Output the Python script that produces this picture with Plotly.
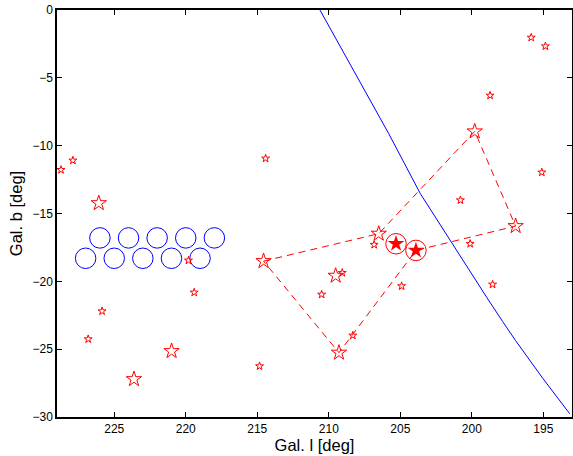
import plotly.graph_objects as go

# Small open stars (Gal. l, Gal. b)
small_l = [228.72, 227.89, 214.42, 195.85, 194.86, 198.73, 195.11, 200.80, 219.81, 219.41,
           225.85, 226.82, 214.84, 206.83, 200.12, 198.55, 209.06, 210.50, 204.91, 208.32]
small_b = [-11.78, -11.09, -10.94, -2.03, -2.67, -6.30, -11.97, -14.02, -18.46, -20.82,
           -22.20, -24.26, -26.25, -17.30, -17.23, -20.23, -19.37, -20.97, -20.35, -23.99]

# Large open stars
large_l = [226.08, 199.80, 196.94, 220.99, 223.62, 214.56, 206.51, 209.52, 209.29]
large_b = [-14.24, -8.95, -15.93, -25.14, -27.21, -18.51, -16.49, -19.59, -25.26]

# Filled stars (circled)
filled_l = [205.30, 203.91]
filled_b = [-17.23, -17.72]

# Dashed polygon vertices
poly_l = [214.56, 206.51, 199.80, 196.94, 203.91, 209.29, 214.56]
poly_b = [-18.51, -16.49, -8.95, -15.93, -17.72, -25.26, -18.51]

# Blue field circles
fov_l = [226, 224, 222, 220, 218, 227, 225, 223, 221, 219]
fov_b = [-16.8, -16.8, -16.8, -16.8, -16.8, -18.3, -18.3, -18.3, -18.3, -18.3]

# Blue curve
curve_l = [210.62, 208.37, 205.81, 203.60, 201.53, 200.05, 198.95, 197.85, 196.95, 195.02, 193.16]
curve_b = [0.0, -4.22, -9.12, -13.54, -16.99, -19.40, -21.20, -22.96, -24.36, -27.18, -29.76]

x_ticks = [225, 220, 215, 210, 205, 200, 195]
y_ticks = [0, -5, -10, -15, -20, -25, -30]

RED = "#ff0000"
BLUE = "#0000ff"

fig = go.Figure()
fig.add_trace(go.Scatter(x=curve_l, y=curve_b, mode="lines", line=dict(color=BLUE, width=1),
                         hoverinfo="skip"))
fig.add_trace(go.Scatter(x=fov_l, y=fov_b, mode="markers",
                         marker=dict(symbol="circle-open", size=20.5, color=BLUE, line=dict(width=1, color=BLUE))))
fig.add_trace(go.Scatter(x=poly_l, y=poly_b, mode="lines",
                         line=dict(color=RED, width=1, dash="7px,5px")))
fig.add_trace(go.Scatter(x=small_l, y=small_b, mode="markers",
                         marker=dict(symbol="star-open", size=6, color=RED, line=dict(width=1, color=RED))))
fig.add_trace(go.Scatter(x=large_l, y=large_b, mode="markers",
                         marker=dict(symbol="star-open", size=11.5, color=RED, line=dict(width=1, color=RED))))
fig.add_trace(go.Scatter(x=filled_l, y=filled_b, mode="markers",
                         marker=dict(symbol="star", size=12.5, color=RED, line=dict(width=0, color=RED))))
fig.add_trace(go.Scatter(x=filled_l, y=filled_b, mode="markers",
                         marker=dict(symbol="circle-open", size=20.5, color=RED, line=dict(width=1, color=RED))))

axis_common = dict(showgrid=False, zeroline=False, showline=True, linecolor="black", linewidth=1.5,
                   mirror="ticks", ticks="inside", ticklen=5, tickwidth=1, tickcolor="black",
                   automargin=False,
                   tickfont=dict(family="Liberation Sans, Arial, sans-serif", size=12, color="black"))

fig.update_layout(
    width=573, height=456,
    margin=dict(l=57, r=1, t=10, b=39),
    paper_bgcolor="white", plot_bgcolor="white",
    showlegend=False,
    font=dict(family="Liberation Sans, Arial, sans-serif", color="black"),
    xaxis=dict(range=[229, 193], tickvals=x_ticks, ticktext=[str(v) for v in x_ticks],
               title=dict(text="Gal. l [deg]", font=dict(size=16.5), standoff=1), **axis_common),
    yaxis=dict(range=[-30, 0], tickvals=y_ticks,
               ticktext=[str(v).replace("-", "\u2212") for v in y_ticks],
               title=dict(text="Gal. b [deg]", font=dict(size=16.5), standoff=6), **axis_common),
)

fig.write_html("out.html", config={"displayModeBar": False},
               post_script="document.body.style.margin='0';document.body.style.padding='0';"
                           "document.body.style.overflow='hidden';")
